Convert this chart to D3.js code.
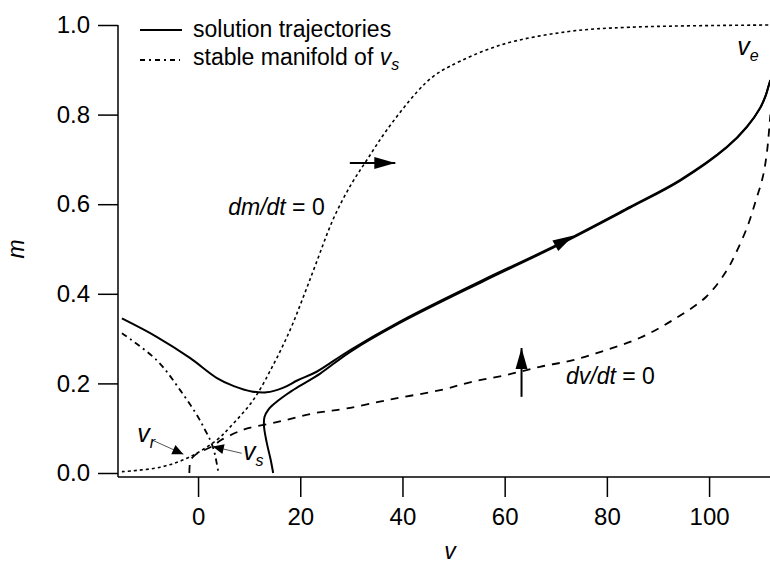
<!DOCTYPE html>
<html>
<head>
<meta charset="utf-8">
<script src="https://cdn.jsdelivr.net/npm/d3@7/dist/d3.min.js"></script>
<style>
  body { margin: 0; background: #fff; }
  text { font-family: "Liberation Sans", Arial, Helvetica, sans-serif; fill: #000; }
</style>
</head>
<body>
<div id="chart"></div>
<script>
// values (v horizontal, m vertical)
var traj1V = [-14.9, -8.1, -1.6, 3.7, 7, 10.5, 13.4, 16.6, 19.5, 23.2, 29.7, 39.5, 55.8, 70.2, 84.5, 94.3, 103.5, 107.4, 110, 111, 111.6, 112];
var traj1M = [0.345, 0.304, 0.257, 0.212, 0.194, 0.182, 0.180, 0.190, 0.207, 0.226, 0.274, 0.338, 0.431, 0.509, 0.594, 0.654, 0.728, 0.773, 0.815, 0.840, 0.862, 0.877];

var traj2V = [14.7, 14.2, 13.4, 12.9, 13.0, 13.8, 15.5, 17.5, 20, 23.9, 29.7, 39.5, 55.8, 70.2, 84.5, 94.3, 103.5, 107.4, 110, 111, 111.6, 112];
var traj2M = [0, 0.030, 0.070, 0.105, 0.125, 0.142, 0.160, 0.177, 0.195, 0.222, 0.270, 0.335, 0.428, 0.507, 0.592, 0.652, 0.727, 0.772, 0.815, 0.840, 0.862, 0.877];

var manifoldV = [-14.9, -8.1, -3.5, 0.0, 1.37, 2.35, 2.9, 3.33, 4.0];
var manifoldM = [0.312, 0.252, 0.185, 0.125, 0.096, 0.074, 0.058, 0.040, 0.0];

// dm/dt = 0 nullcline
var mNullV = [-14.9, -7.4, -1.6, 3.7, 6.3, 10.8, 14.7, 18.0, 20.5, 23.0, 26.5, 30.0, 33.0, 36.9, 42.8, 46.0, 49.3, 59.1, 72.2, 84.5, 112];
var mNullM = [0.003, 0.013, 0.036, 0.074, 0.103, 0.163, 0.241, 0.319, 0.390, 0.465, 0.568, 0.645, 0.698, 0.765, 0.850, 0.885, 0.908, 0.955, 0.985, 0.995, 1.0];

// dv/dt = 0 nullcline
var vNullV = [-1.7, -1.65, -1.4, -0.6, 0.4, 2.7, 4.6, 7.8, 9.8, 16, 22.5, 29.1, 38, 47.4, 53.8, 60.4, 66.9, 73.4, 80, 86.5, 93, 99.5, 103.5, 105.2, 107.5, 109.2, 110.5, 111.3, 111.8, 112];
var vNullM = [0, 0.015, 0.030, 0.040, 0.047, 0.059, 0.074, 0.092, 0.100, 0.115, 0.133, 0.144, 0.165, 0.185, 0.204, 0.219, 0.237, 0.252, 0.275, 0.302, 0.342, 0.394, 0.453, 0.490, 0.550, 0.610, 0.660, 0.714, 0.773, 0.80];

var xTicks = [0, 20, 40, 60, 80, 100];
var yTicks = [0, 0.2, 0.4, 0.6, 0.8, 1.0];

var width = 770, height = 563;

var svg = d3.select('#chart').append('svg')
  .attr('width', width)
  .attr('height', height);

var x = d3.scaleLinear().domain([-15, 112]).range([121.4, 770.4]);
var y = d3.scaleLinear().domain([0, 1]).range([473, 25]);

var axisX = 118, axisY = 477;

// axes
var gx = svg.append('g')
  .attr('transform', 'translate(0,' + axisY + ')')
  .call(d3.axisBottom(x).tickValues(xTicks).tickSize(20).tickPadding(11).tickFormat(d3.format('d')));
gx.select('.domain').remove();

var gy = svg.append('g')
  .attr('transform', 'translate(' + axisX + ',0)')
  .call(d3.axisLeft(y).tickValues(yTicks).tickSize(20).tickPadding(8).tickFormat(d3.format('.1f')));
gy.select('.domain').remove();

svg.selectAll('.tick line').attr('stroke', '#000').attr('stroke-width', 1.5);
svg.selectAll('.tick text').style('font-size', '24px').attr('fill', '#000');

svg.append('line').attr('x1', axisX).attr('x2', width).attr('y1', axisY).attr('y2', axisY)
  .attr('stroke', '#000').attr('stroke-width', 1.5);
svg.append('line').attr('x1', axisX).attr('x2', axisX).attr('y1', y(1)).attr('y2', axisY)
  .attr('stroke', '#000').attr('stroke-width', 1.5);

svg.append('text').attr('x', 450).attr('y', 559).attr('text-anchor', 'middle')
  .style('font-size', '23px').style('font-style', 'italic').text('v');
svg.append('text').attr('transform', 'translate(24,249) rotate(-90)').attr('text-anchor', 'middle')
  .style('font-size', '23px').style('font-style', 'italic').text('m');

// curves
var line = d3.line()
  .x(function (d) { return x(d[0]); })
  .y(function (d) { return y(d[1]); })
  .curve(d3.curveCatmullRom.alpha(0.5));

function zip(a, b) { return a.map(function (v, i) { return [v, b[i]]; }); }

var plot = svg.append('g').attr('fill', 'none');

plot.append('path').attr('d', line(zip(mNullV, mNullM)))
  .attr('stroke', '#000').attr('stroke-width', 1.6).attr('stroke-dasharray', '3,3');
plot.append('path').attr('d', line(zip(vNullV, vNullM)))
  .attr('stroke', '#000').attr('stroke-width', 1.8).attr('stroke-dasharray', '8,7');
plot.append('path').attr('d', line(zip(manifoldV, manifoldM)))
  .attr('stroke', '#000').attr('stroke-width', 1.8).attr('stroke-dasharray', '6,4,2,4');
plot.append('path').attr('d', line(zip(traj2V, traj2M)))
  .attr('stroke', '#000').attr('stroke-width', 2);
plot.append('path').attr('d', line(zip(traj1V, traj1M)))
  .attr('stroke', '#000').attr('stroke-width', 2);

// arrows: [tailV, tailM, tipV, tipM]
var flowArrows = [[29.7, 0.692, 38.6, 0.692], [63.3, 0.170, 63.3, 0.279], [70.2, 0.509, 73.5, 0.530]];
var pointerArrows = [[-9.06, 0.074, -2.87, 0.042], [8.55, 0.044, 2.88, 0.059]];

function head(g, x1, y1, x2, y2, len, hw) {
  var a = Math.atan2(y2 - y1, x2 - x1);
  var bx = x2 - len * Math.cos(a), by = y2 - len * Math.sin(a);
  var px = -Math.sin(a) * hw, py = Math.cos(a) * hw;
  g.append('path')
    .attr('d', 'M' + x2 + ',' + y2 + 'L' + (bx + px) + ',' + (by + py) + 'L' + (bx - px) + ',' + (by - py) + 'Z')
    .attr('fill', '#000').attr('stroke', 'none');
}

flowArrows.forEach(function (d, i) {
  var x1 = x(d[0]), y1 = y(d[1]), x2 = x(d[2]), y2 = y(d[3]);
  if (i < 2) {
    svg.append('line').attr('x1', x1).attr('y1', y1).attr('x2', x2).attr('y2', y2)
      .attr('stroke', '#000').attr('stroke-width', 2);
  }
  head(svg, x1, y1, x2, y2, 21, 6);
});

pointerArrows.forEach(function (d) {
  var x1 = x(d[0]), y1 = y(d[1]), x2 = x(d[2]), y2 = y(d[3]);
  svg.append('line').attr('x1', x1).attr('y1', y1).attr('x2', x2).attr('y2', y2)
    .attr('stroke', '#555').attr('stroke-width', 1);
  head(svg, x1, y1, x2, y2, 11, 5);
});

// annotation labels
function subLabel(px, py, main, sub) {
  var t = svg.append('text').attr('x', px).attr('y', py).style('font-size', '25px').style('font-style', 'italic');
  t.append('tspan').text(main);
  t.append('tspan').attr('dy', 6).style('font-size', '16px').text(sub);
}
subLabel(x(-11.9), y(0.069), 'v', 'r');
subLabel(x(8.8), y(0.029), 'v', 's');
subLabel(x(105.5), y(0.933), 'v', 'e');

function nullLabel(px, py, it) {
  var t = svg.append('text').attr('x', px).attr('y', py).style('font-size', '23px');
  t.append('tspan').style('font-style', 'italic').text(it);
  t.append('tspan').text(' = 0');
}
nullLabel(x(5.9), y(0.576), 'dm/dt');
nullLabel(x(72), y(0.199), 'dv/dt');

// legend
var lg = svg.append('g');
lg.append('line').attr('x1', 140).attr('x2', 182).attr('y1', 30).attr('y2', 30)
  .attr('stroke', '#000').attr('stroke-width', 2);
lg.append('text').attr('x', 193).attr('y', 37).style('font-size', '23px').text('solution trajectories');
lg.append('line').attr('x1', 140).attr('x2', 180).attr('y1', 60).attr('y2', 60)
  .attr('stroke', '#000').attr('stroke-width', 1.8).attr('stroke-dasharray', '5,4,2,4');
var lt = lg.append('text').attr('x', 193).attr('y', 65).style('font-size', '23px');
lt.append('tspan').text('stable manifold of ');
lt.append('tspan').style('font-style', 'italic').text('v');
lt.append('tspan').attr('dy', 5).style('font-size', '16px').style('font-style', 'italic').text('s');
</script>
</body>
</html>
